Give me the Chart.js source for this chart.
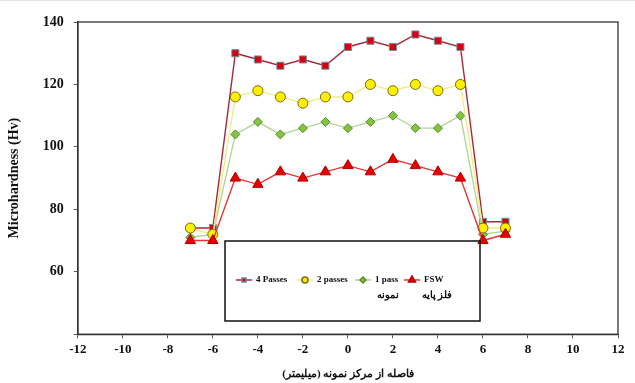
<!DOCTYPE html>
<html>
<head>
<meta charset="utf-8">
<script src="https://cdn.jsdelivr.net/npm/chart.js@4/dist/chart.umd.min.js"></script>
<style>
  body { margin: 0; background: #fff; }
  #wrap { width: 635px; height: 383px; border-top: 1px solid #e4e4e4; box-sizing: border-box; }
</style>
</head>
<body>
<div id="wrap"><canvas id="chart" width="635" height="382"></canvas></div>
<script>
// distance from sample centre (mm)
const positions = [-7, -6, -5, -4, -3, -2, -1, 0, 1, 2, 3, 4, 5, 6, 7];

const fourPasses = [74, 74, 130, 128, 126, 128, 126, 132, 134, 132, 136, 134, 132, 76, 76];
const twoPasses  = [74, 72, 116, 118, 116, 114, 116, 116, 120, 118, 120, 118, 120, 74, 74];
const onePass    = [71, 72, 104, 108, 104, 106, 108, 106, 108, 110, 106, 106, 110, 72, 73];
const fsw        = [70, 70, 90, 88, 92, 90, 92, 94, 92, 96, 94, 92, 90, 70, 72];

const yTicks = [60, 80, 100, 120, 140];

const serif = "'Liberation Serif', 'DejaVu Serif', serif";

const toPoints = (vals) => vals.map((v, i) => ({ x: positions[i], y: v }));

const series = [
  { label: '4 Passes', sub: '', data: fourPasses, line: '#a8283a', fill: '#d80010', edge: '#6e8ea0', shape: 'rect', r: 5, order: 3 },
  { label: '2 passes', sub: '', data: twoPasses, line: '#f0ec88', fill: '#fff000', edge: '#7a6a10', shape: 'circle', r: 5, order: 1 },
  { label: '1 pass', sub: 'نمونه', data: onePass, line: '#b2d598', fill: '#86c440', edge: '#4f8a2a', shape: 'rectRot', r: 4.5, order: 2 },
  { label: 'FSW', sub: 'فلز پایه', data: fsw, line: '#e03838', fill: '#e80000', edge: '#b00000', shape: 'triangle', r: 6, order: 0 },
];

const legendBox = {
  id: 'legendBox',
  afterDraw(chart) {
    const ctx = chart.ctx;
    ctx.save();
    ctx.strokeStyle = '#111';
    ctx.lineWidth = 1.5;
    ctx.strokeRect(225, 240, 255, 80);
    const starts = [236, 297, 355, 404];
    const y = 279;
    chart.data.datasets.forEach((ds, i) => {
      const s = series[i];
      const x0 = starts[i];
      ctx.strokeStyle = ds.borderColor;
      ctx.lineWidth = 1.5;
      ctx.beginPath();
      ctx.moveTo(x0, y);
      ctx.lineTo(x0 + 16, y);
      ctx.stroke();
      ctx.fillStyle = s.fill;
      ctx.strokeStyle = s.edge;
      Chart.helpers.drawPoint(ctx, {
        pointStyle: s.shape, radius: s.shape === 'triangle' ? 4 : 3,
        borderWidth: 1
      }, x0 + 8, y);
      ctx.fillStyle = '#111';
      ctx.font = 'bold 9px ' + serif;
      ctx.textAlign = 'left';
      ctx.textBaseline = 'middle';
      ctx.fillText(s.label, x0 + 20, y);
      if (s.sub) {
        ctx.font = 'bold 10px ' + serif;
        ctx.textAlign = 'center';
        ctx.fillText(s.sub, x0 + 33, y + 15);
      }
    });
    ctx.restore();
  }
};

const frame = {
  id: 'frame',
  beforeDatasetsDraw(chart) {
    const a = chart.chartArea;
    const ctx = chart.ctx;
    ctx.save();
    ctx.strokeStyle = '#333';
    ctx.lineWidth = 1.3;
    ctx.strokeRect(a.left, a.top, a.right - a.left, a.bottom - a.top);
    ctx.restore();
  }
};

new Chart(document.getElementById('chart'), {
  type: 'line',
  data: {
    datasets: series.map(s => ({
      label: s.label,
      data: toPoints(s.data),
      borderColor: s.line,
      borderWidth: 1.4,
      backgroundColor: s.fill,
      pointBackgroundColor: s.fill,
      pointBorderColor: s.edge,
      pointBorderWidth: 1,
      pointStyle: s.shape,
      pointRadius: s.r,
      tension: 0,
      order: s.order,
    }))
  },
  options: {
    responsive: false,
    animation: false,
    layout: { padding: { left: 6, right: 17, top: 21, bottom: 2 } },
    plugins: {
      legend: { display: false },
      tooltip: { enabled: false },
    },
    scales: {
      x: {
        type: 'linear',
        min: -12,
        max: 12,
        ticks: { stepSize: 2, color: '#111', font: { family: serif, size: 13, weight: 'bold' }, padding: 4 },
        grid: { drawOnChartArea: false, tickLength: 4, color: '#555' },
        border: { color: '#333', width: 1.3 },
        title: {
          display: true,
          text: 'فاصله از مرکز نمونه (میلیمتر)',
          color: '#111',
          font: { family: serif, size: 11, weight: 'bold' },
          padding: { top: 6, bottom: 0 }
        }
      },
      y: {
        min: 40,
        max: 140,
        afterBuildTicks: (axis) => { axis.ticks = [40].concat(yTicks).map(v => ({ value: v })); },
        ticks: {
          color: '#111',
          font: { family: serif, size: 14, weight: 'bold' },
          padding: 10,
          callback: (v) => (v === 40 ? '' : v)
        },
        grid: { drawOnChartArea: false, tickLength: 4, color: '#555' },
        border: { color: '#4a3535', width: 1.5 },
        title: {
          display: true,
          text: 'Microhardness (Hv)',
          color: '#111',
          font: { family: serif, size: 14, weight: 'bold' },
          padding: { top: 0, bottom: 10 }
        }
      }
    }
  },
  plugins: [frame, legendBox]
});
</script>
</body>
</html>
